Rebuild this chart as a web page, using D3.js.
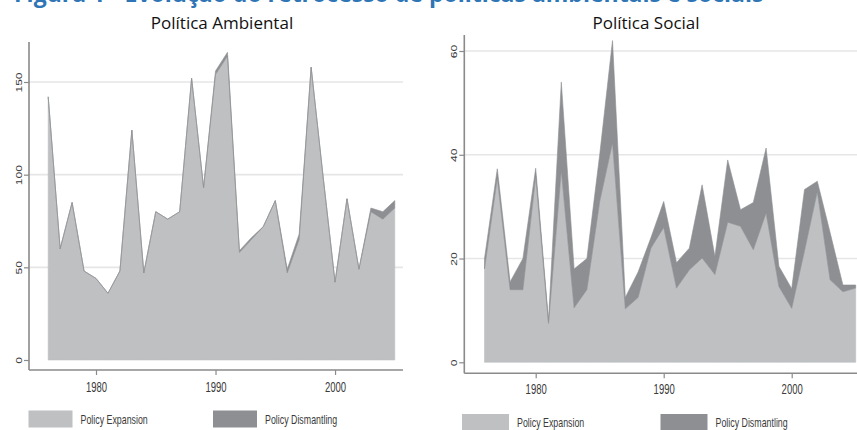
<!DOCTYPE html>
<html>
<head>
<meta charset="utf-8">
<script src="https://cdn.jsdelivr.net/npm/d3@7"></script>
<style>
  body { margin: 0; background: #fff; }
  svg { display: block; }
</style>
</head>
<body>
<svg id="chart" width="857" height="430"></svg>
<script>
// Annual counts of policy changes, 1976-2005
const years = [1976, 1977, 1978, 1979, 1980, 1981, 1982, 1983, 1984, 1985,
               1986, 1987, 1988, 1989, 1990, 1991, 1992, 1993, 1994, 1995,
               1996, 1997, 1998, 1999, 2000, 2001, 2002, 2003, 2004, 2005];

// Environmental policy
const envExpansion   = [142, 60, 85, 48, 44, 36, 48, 124, 47, 80,
                        76, 80, 152, 93, 154, 164, 58, 65, 72, 86,
                        47, 65, 158, 99, 42, 87, 49, 80, 76, 82];
const envDismantling = [0, 0, 0, 0, 0, 0, 0, 0, 0, 0,
                        0, 0, 0, 0, 2, 2, 1, 1, 0, 0,
                        2, 3, 0, 0, 0, 0, 0, 2, 4, 4];

// Social policy
const socExpansion   = [18, 35.5, 14, 14, 35.8, 7.5, 37, 10.5, 14, 31,
                        42.3, 10.3, 12.5, 22, 26, 14.3, 17.8, 20.1, 16.9, 27,
                        26.2, 21.7, 28.8, 14.6, 10.4, 21.5, 32.9, 15.9, 13.6, 14.3];
const socDismantling = [2, 1.8, 1.5, 6, 1.6, 0.5, 17, 7.5, 6, 9,
                        19.7, 2.2, 4.9, 2, 5, 4.9, 4.2, 14.1, 3.5, 12,
                        3.2, 9.1, 12.5, 3.9, 3.8, 11.8, 2, 9.1, 1.3, 0.6];

const envYTicks = [0, 50, 100, 150];
const socYTicks = [0, 20, 40, 60];
const xTicks = [1980, 1990, 2000];

const seriesNames = ["Policy Expansion", "Policy Dismantling"];
const panelTitles = ["Política Ambiental", "Política Social"];
const figureTitle = "Figura 1 - Evolução do retrocesso de políticas ambientais e sociais";

const svg = d3.select("#chart");
const SQUEEZE = 0.68;           // horizontal compression of the graph lettering
const fills = ["#bec0c2", "#8d8f92"];
const axisColor = "#8a8a8a";
const labelColor = "#3a3a3a";
const statFont = "'Liberation Sans', Arial, sans-serif";

// Figure caption (runs off the top edge)
svg.append("text")
  .attr("x", 14).attr("y", 1.5)
  .attr("font-family", "'Open Sans', 'Noto Sans', sans-serif")
  .attr("font-weight", "bold")
  .attr("font-size", 23)
  .attr("fill", "#2e75b6")
  .text(figureTitle);

function drawPanel(cfg) {
  const x = d3.scaleLinear().domain([years[0], years[years.length - 1]]).range(cfg.xRange);
  const y = d3.scaleLinear().domain([cfg.yTicks[0], cfg.yTicks[cfg.yTicks.length - 1]]).range(cfg.yRange);
  const g = svg.append("g");

  // title
  svg.append("text")
    .attr("x", cfg.titleX).attr("y", 29)
    .attr("text-anchor", "middle")
    .attr("font-family", "'Open Sans', 'Noto Sans', sans-serif")
    .attr("font-size", 17)
    .attr("fill", "#111")
    .text(cfg.title);

  // horizontal grid
  g.append("g").selectAll("line")
    .data(cfg.yTicks.filter(d => d > 0))
    .join("line")
    .attr("x1", cfg.axisX).attr("x2", cfg.gridRight)
    .attr("y1", d => y(d)).attr("y2", d => y(d))
    .attr("stroke", "#e6e6e6").attr("stroke-width", 1.6);

  // stacked areas
  const rows = years.map((yr, i) => ({ year: yr, exp: cfg.exp[i], dis: cfg.dis[i] }));
  const layers = d3.stack().keys(["exp", "dis"])(rows);
  const area = d3.area()
    .x(d => x(d.data.year))
    .y0(d => y(d[0]))
    .y1(d => y(d[1]));
  g.append("g").selectAll("path")
    .data(layers)
    .join("path")
    .attr("d", area)
    .attr("fill", (d, i) => fills[i])
    .attr("stroke", (d, i) => fills[i])
    .attr("stroke-width", 0.6)
    .attr("stroke-linejoin", "round");

  // y axis
  const yAxis = g.append("g")
    .attr("transform", `translate(${cfg.axisX},0)`)
    .call(d3.axisLeft(y).tickValues(cfg.yTicks).tickSize(5).tickFormat(d3.format("d")));
  yAxis.select(".domain").remove();
  yAxis.selectAll(".tick line").attr("stroke", axisColor).attr("stroke-width", 1.2);
  yAxis.selectAll(".tick text")
    .attr("x", 0).attr("y", 0).attr("dy", null)
    .attr("text-anchor", "middle")
    .attr("transform", `translate(-7,0) scale(${SQUEEZE},1) rotate(-90)`)
    .attr("font-family", statFont).attr("font-size", 12)
    .attr("fill", labelColor);
  g.append("line")
    .attr("x1", cfg.axisX).attr("x2", cfg.axisX)
    .attr("y1", cfg.axisTop).attr("y2", cfg.axisBottom)
    .attr("stroke", axisColor).attr("stroke-width", 1.6);

  // x axis
  const xAxis = g.append("g")
    .attr("transform", `translate(0,${cfg.axisBottom})`)
    .call(d3.axisBottom(x).tickValues(xTicks).tickSize(5).tickFormat(d3.format("d")));
  xAxis.select(".domain").remove();
  xAxis.selectAll(".tick line").attr("stroke", axisColor).attr("stroke-width", 1.2);
  xAxis.selectAll(".tick text")
    .attr("y", cfg.xLabelY)
    .attr("transform", `scale(${SQUEEZE},1)`)
    .attr("font-family", statFont).attr("font-size", 14)
    .attr("fill", labelColor);
  g.append("line")
    .attr("x1", cfg.axisX).attr("x2", cfg.axisRight)
    .attr("y1", cfg.axisBottom).attr("y2", cfg.axisBottom)
    .attr("stroke", axisColor).attr("stroke-width", 1.6);

  // legend
  const leg = g.append("g").selectAll("g")
    .data(seriesNames)
    .join("g")
    .attr("transform", (d, i) => `translate(${cfg.legendX[i]},${cfg.legendY})`);
  leg.append("rect")
    .attr("width", cfg.swatchW).attr("height", 17)
    .attr("fill", (d, i) => fills[i]);
  leg.append("text")
    .attr("transform", `translate(${cfg.swatchW + 8},${cfg.legendTextDy}) scale(${SQUEEZE},1)`)
    .attr("font-family", statFont).attr("font-size", 13)
    .attr("fill", labelColor)
    .text(d => d);
}

drawPanel({
  title: panelTitles[0], titleX: 222,
  exp: envExpansion, dis: envDismantling, yTicks: envYTicks,
  xRange: [48.2, 394.8], yRange: [360, 82],
  axisX: 29, axisTop: 42, axisBottom: 370, axisRight: 403, gridRight: 403,
  xLabelY: 12,
  legendX: [28.5, 213], legendY: 410.5, swatchW: 44, legendTextDy: 13
});

drawPanel({
  title: panelTitles[1], titleX: 646,
  exp: socExpansion, dis: socDismantling, yTicks: socYTicks,
  xRange: [484.5, 855.7], yRange: [362.3, 51],
  axisX: 464.3, axisTop: 35, axisBottom: 373.3, axisRight: 857, gridRight: 857,
  xLabelY: 11,
  legendX: [462, 660.5], legendY: 414, swatchW: 47, legendTextDy: 12.5
});
</script>
</body>
</html>
